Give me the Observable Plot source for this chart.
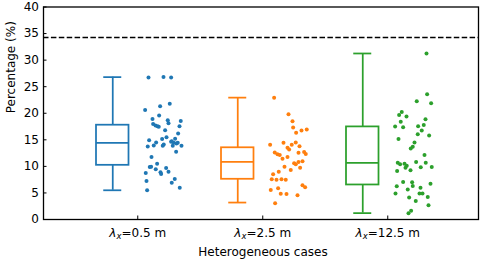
<!DOCTYPE html>
<html>
<head>
<meta charset="utf-8">
<script src="https://cdn.jsdelivr.net/npm/d3@7"></script>
<script src="https://cdn.jsdelivr.net/npm/@observablehq/plot@0.6"></script>
<style>
  html, body { margin: 0; padding: 0; background: #fff; }
  svg { font-family: "DejaVu Sans", sans-serif; overflow: visible; }
</style>
</head>
<body>
<div id="chart"></div>
<script>
// ---- data ----
const cases = ["0.5", "2.5", "12.5"];
const colors = ["#1f77b4", "#ff7f0e", "#2ca02c"];
const whiskerLow = [5.5, 3.19, 1.2];
const q1 = [10.2, 7.57, 6.5];
const median = [14.43, 10.87, 10.68];
const q3 = [17.75, 13.5, 17.43];
const whiskerHigh = [26.8, 22.94, 31.25];
const threshold = 34.25;
const yTicks = [0, 5, 10, 15, 20, 25, 30, 35, 40];

// point values (%) and horizontal jitter (category units)
const values0 = [26.75,26.81,26.75,20.62,21.31,21.81,18.94,19.56,18.69,18.56,18.00,17.69,17.56,17.44,16.81,18.13,17.56,16.19,14.94,13.75,14.50,13.94,15.13,15.50,14.62,14.13,13.88,15.19,14.44,14.31,14.44,13.88,13.88,12.75,14.75,11.75,10.50,9.88,9.94,9.44,8.88,8.57,9.69,9.00,8.75,7.63,6.94,7.25,5.50,6.00];
const jitter0 = [0.086,0.206,0.267,0.059,0.179,0.256,0.118,0.171,0.240,0.344,0.123,0.142,0.158,0.168,0.219,0.246,0.334,0.323,0.091,0.080,0.147,0.128,0.195,0.230,0.267,0.208,0.200,0.299,0.288,0.310,0.320,0.280,0.350,0.307,0.272,0.110,0.155,0.096,0.107,0.144,0.182,0.187,0.227,0.246,0.064,0.296,0.272,0.070,0.075,0.336];
const values1 = [22.94,19.81,18.50,17.32,16.31,16.76,16.94,14.06,14.43,13.50,14.06,14.51,13.81,13.20,12.63,12.26,12.13,11.43,11.75,12.56,12.69,12.31,9.93,10.57,10.82,10.38,10.95,9.32,9.75,8.51,7.57,7.50,7.57,7.50,5.89,5.57,4.87,4.82,6.45,6.07,4.57,3.07,9.00];
const jitter1 = [0.091,0.206,0.238,0.243,0.267,0.310,0.352,0.059,0.166,0.198,0.232,0.264,0.294,0.211,0.096,0.118,0.136,0.158,0.198,0.286,0.331,0.344,0.174,0.251,0.286,0.264,0.318,0.224,0.299,0.083,0.072,0.110,0.150,0.184,0.123,0.064,0.144,0.190,0.318,0.339,0.278,0.099,0.128];
const values2 = [31.25,23.56,21.87,22.25,20.25,19.69,19.38,18.88,18.38,17.38,17.50,17.56,17.81,16.75,16.06,15.81,15.13,14.50,13.69,13.38,12.13,10.69,10.38,10.50,10.13,9.75,9.13,10.82,9.82,10.69,9.88,9.25,7.07,6.25,7.00,6.32,5.63,6.00,6.75,4.88,4.88,4.88,4.13,3.50,4.25,2.69,1.63,1.19];
const jitter2 = [0.310,0.315,0.347,0.232,0.112,0.091,0.150,0.302,0.104,0.123,0.059,0.243,0.288,0.272,0.240,0.331,0.086,0.214,0.200,0.184,0.294,0.080,0.099,0.134,0.152,0.142,0.075,0.227,0.264,0.304,0.352,0.182,0.123,0.072,0.195,0.200,0.160,0.262,0.342,0.062,0.254,0.278,0.171,0.224,0.320,0.326,0.187,0.166];

const allValues = [values0, values1, values2];
const allJitter = [jitter0, jitter1, jitter2];

// ---- tables ----
const boxes = cases.map((c, i) => ({
  i, c, color: colors[i],
  lo: whiskerLow[i], q1: q1[i], med: median[i], q3: q3[i], hi: whiskerHigh[i]
}));
const points = [];
allValues.forEach((vals, i) => vals.forEach((v, k) => points.push({i, color: colors[i], v, j: allJitter[i][k]})));

const boxOff = -0.2, boxHalf = 0.13, capHalf = 0.072;
const FS = 12;

const chart = Plot.plot({
  width: 484,
  height: 260,
  marginLeft: 43,
  marginRight: 6,
  marginTop: 6.5,
  marginBottom: 41,
  style: {fontFamily: "DejaVu Sans, sans-serif", fontSize: FS + "px", color: "#000", background: "#fff", overflow: "visible"},
  x: {type: "linear", domain: [-0.754, 2.726]},
  y: {domain: [0, 40]},
  marks: [
    Plot.ruleY([threshold], {stroke: "#000", strokeWidth: 1.5, strokeDasharray: "5.5,2.4"}),
    // whiskers
    Plot.ruleX(boxes, {x: d => d.i + boxOff, y1: "q3", y2: "hi", stroke: "color", strokeWidth: 1.75}),
    Plot.ruleX(boxes, {x: d => d.i + boxOff, y1: "lo", y2: "q1", stroke: "color", strokeWidth: 1.75}),
    // caps
    Plot.ruleY(boxes, {y: "hi", x1: d => d.i + boxOff - capHalf, x2: d => d.i + boxOff + capHalf, stroke: "color", strokeWidth: 1.75}),
    Plot.ruleY(boxes, {y: "lo", x1: d => d.i + boxOff - capHalf, x2: d => d.i + boxOff + capHalf, stroke: "color", strokeWidth: 1.75}),
    // box
    Plot.rect(boxes, {x1: d => d.i + boxOff - boxHalf, x2: d => d.i + boxOff + boxHalf, y1: "q1", y2: "q3", fill: "none", stroke: "color", strokeWidth: 1.75}),
    Plot.ruleY(boxes, {y: "med", x1: d => d.i + boxOff - boxHalf, x2: d => d.i + boxOff + boxHalf, stroke: "color", strokeWidth: 1.75}),
    // points
    Plot.dot(points, {x: d => d.i + d.j, y: "v", r: 2, fill: "color", stroke: "none"}),
    // axes
    Plot.axisY(yTicks, {tickSize: -3.5, tickFormat: () => "", label: null}),
    Plot.axisY(yTicks, {tickSize: 0, tickPadding: 4.5, fontSize: FS, label: null}),
    Plot.axisX([0, 1, 2], {tickSize: -3.5, tickFormat: () => "", label: null}),
    Plot.axisX([0, 1, 2], {tickSize: 0, tickPadding: 8.5, fontSize: FS, tickFormat: i => cases[i], label: null}),
    Plot.text(["Percentage (%)"], {frameAnchor: "left", rotate: -90, dx: -32, fontSize: FS}),
    Plot.text(["Heterogeneous cases"], {frameAnchor: "bottom", dy: 36.5, dx: 2, fontSize: FS}),
    Plot.frame({stroke: "#000", strokeWidth: 1.3})
  ]
});

// rich x tick labels: italic λ with italic subscript x
d3.select(chart).selectAll('g[aria-label="x-axis tick label"] text').each(function() {
  const t = d3.select(this);
  const val = t.text().trim();
  if (!cases.includes(val)) { if (val === "") t.remove(); return; }
  t.text(null);
  t.append("tspan").attr("font-style", "italic").text("λ");
  t.append("tspan").attr("font-style", "italic").attr("font-size", "8.5px").attr("dy", "2.5").text("x");
  t.append("tspan").attr("dy", "-2.5").text("=" + val + " m");
});

document.getElementById("chart").appendChild(chart);
</script>
</body>
</html>
